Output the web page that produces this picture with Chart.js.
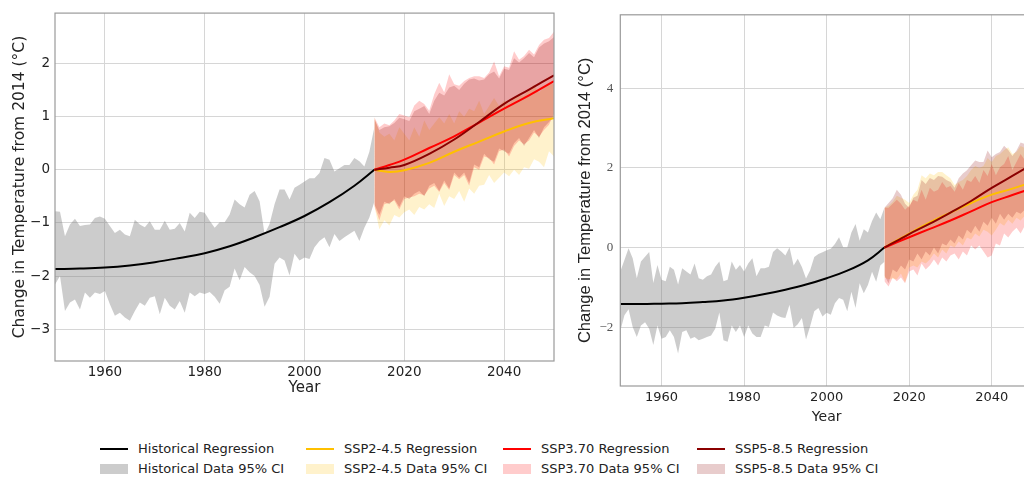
<!DOCTYPE html>
<html>
<head>
<meta charset="utf-8">
<script src="https://cdn.jsdelivr.net/npm/chart.js@4.4.0/dist/chart.umd.min.js"></script>
<style>
  html, body { margin: 0; padding: 0; width: 1024px; height: 478px; overflow: hidden; background: #fff; }
  #left { position: absolute; left: 0; top: 0; }
  #right { position: absolute; left: 560px; top: 0; }
  .item { position: absolute; height: 20px; line-height: 20px; white-space: nowrap;
          font-family: "DejaVu Sans", sans-serif; font-size: 13px; color: #222; }
  .swatch-line { position: absolute; left: 0; top: 9px; width: 28px; height: 2px; }
  .swatch-box { position: absolute; left: 0; top: 5px; width: 28px; height: 10px; }
  .item span { position: absolute; left: 38px; top: 0; }
</style>
</head>
<body>
<canvas id="left" width="570" height="400"></canvas>
<canvas id="right" width="490" height="430"></canvas>

<div class="item" style="left:100px; top:439px;"><div class="swatch-line" style="background:#000"></div><span>Historical Regression</span></div>
<div class="item" style="left:100px; top:459px;"><div class="swatch-box" style="background:rgba(128,128,128,0.4)"></div><span>Historical Data 95% CI</span></div>
<div class="item" style="left:306px; top:439px;"><div class="swatch-line" style="background:#ffc000"></div><span>SSP2-4.5 Regression</span></div>
<div class="item" style="left:306px; top:459px;"><div class="swatch-box" style="background:rgba(255,192,0,0.2)"></div><span>SSP2-4.5 Data 95% CI</span></div>
<div class="item" style="left:503px; top:439px;"><div class="swatch-line" style="background:#ff0000"></div><span>SSP3.70 Regression</span></div>
<div class="item" style="left:503px; top:459px;"><div class="swatch-box" style="background:rgba(255,0,0,0.2)"></div><span>SSP3.70 Data 95% CI</span></div>
<div class="item" style="left:697px; top:439px;"><div class="swatch-line" style="background:#8b0000"></div><span>SSP5-8.5 Regression</span></div>
<div class="item" style="left:697px; top:459px;"><div class="swatch-box" style="background:rgba(139,0,0,0.2)"></div><span>SSP5-8.5 Data 95% CI</span></div>

<script>
// ---- years / ticks ----
const histYears = [
  1950, 1951, 1952, 1953, 1954, 1955, 1956, 1957, 1958, 1959,
  1960, 1961, 1962, 1963, 1964, 1965, 1966, 1967, 1968, 1969,
  1970, 1971, 1972, 1973, 1974, 1975, 1976, 1977, 1978, 1979,
  1980, 1981, 1982, 1983, 1984, 1985, 1986, 1987, 1988, 1989,
  1990, 1991, 1992, 1993, 1994, 1995, 1996, 1997, 1998, 1999,
  2000, 2001, 2002, 2003, 2004, 2005, 2006, 2007, 2008, 2009,
  2010, 2011, 2012, 2013, 2014
];
const projYears = [
  2014, 2015, 2016, 2017, 2018, 2019, 2020, 2021, 2022, 2023,
  2024, 2025, 2026, 2027, 2028, 2029, 2030, 2031, 2032, 2033,
  2034, 2035, 2036, 2037, 2038, 2039, 2040, 2041, 2042, 2043,
  2044, 2045, 2046, 2047, 2048, 2049, 2050
];
const histFitYears = [1950, 1955, 1960, 1965, 1970, 1975, 1980, 1985, 1990, 1995, 2000, 2005, 2010, 2014];
const projFitYears = [2014, 2017, 2020, 2025, 2030, 2035, 2040, 2045, 2050];
const yearTicks = [1960, 1980, 2000, 2020, 2040];
const leftYTicks = [-3, -2, -1, 0, 1, 2];
const rightYTicks = [-2, 0, 2, 4];

// ---- left panel ----
const leftHistUpper = [
  -0.78, -0.79, -1.25, -1.03, -0.92, -1.06, -1.04, -1.03, -0.91, -0.88,
  -0.92, -1.06, -1.19, -1.13, -1.22, -1.25, -0.94, -1.03, -1.08, -0.97,
  -1.13, -1.13, -0.96, -1.13, -1.11, -1.00, -1.16, -0.81, -0.91, -0.79,
  -0.81, -0.96, -1.09, -0.99, -0.99, -0.84, -0.56, -0.65, -0.71, -0.47,
  -0.40, -0.59, -1.21, -1.02, -0.65, -0.37, -0.37, -0.56, -0.34, -0.28,
  -0.22, -0.16, -0.16, -0.06, 0.22, 0.19, -0.03, 0.03, 0.09, 0.09,
  0.22, 0.16, 0.06, 0.34, 0.80
];
const leftHistLower = [
  -2.16, -2.00, -2.66, -2.50, -2.44, -2.63, -2.31, -2.41, -2.31, -2.34,
  -2.28, -2.53, -2.75, -2.69, -2.78, -2.84, -2.66, -2.50, -2.56, -2.41,
  -2.38, -2.72, -2.41, -2.56, -2.63, -2.47, -2.69, -2.31, -2.38, -2.31,
  -2.34, -2.30, -2.39, -2.52, -2.27, -2.20, -1.86, -2.08, -1.83, -1.93,
  -2.00, -2.17, -2.58, -2.39, -1.77, -1.65, -1.71, -1.99, -1.58, -1.71,
  -1.65, -1.68, -1.46, -1.34, -1.27, -1.46, -1.21, -1.34, -1.27, -1.21,
  -1.15, -1.34, -1.09, -0.90, -0.60
];
const leftHistFit = [-1.87, -1.86, -1.84, -1.80, -1.74, -1.66, -1.57, -1.44, -1.27, -1.08, -0.87, -0.61, -0.30, 0];

const leftSsp245Upper = [
  0.99, 0.70, 0.62, 0.68, 0.55, 0.80, 0.68, 0.55, 0.80, 0.62,
  0.93, 0.75, 0.87, 0.99, 0.87, 1.05, 0.87, 1.10, 1.00, 1.15,
  1.10, 1.30, 1.05, 1.20, 1.35, 1.20, 1.30, 1.25, 1.35, 1.40,
  1.40, 1.50, 1.60, 1.45, 1.55, 1.65, 1.60
];
const leftSsp245Lower = [
  -0.68, -1.12, -0.95, -1.05, -0.85, -0.90, -0.80, -0.75, -0.85, -0.70,
  -0.75, -0.65, -0.72, -0.45, -0.68, -0.50, -0.55, -0.40, -0.60, -0.35,
  -0.45, -0.30, -0.28, -0.10, -0.25, -0.15, -0.05, -0.12, 0.00, -0.10,
  0.05, 0.02, 0.20, 0.15, 0.05, 0.35, 0.25
];
const leftSsp370Upper = [
  0.99, 0.80, 0.87, 0.84, 0.93, 1.05, 1.02, 0.99, 1.21, 1.30,
  1.24, 1.11, 1.42, 1.64, 1.46, 1.80, 1.61, 1.58, 1.67, 1.73,
  1.76, 1.76, 1.73, 1.83, 2.04, 1.76, 1.95, 1.92, 2.23, 2.07,
  2.14, 2.26, 2.17, 2.35, 2.45, 2.48, 2.60
];
const leftSsp370Lower = [
  -0.68, -0.95, -0.65, -0.62, -0.58, -0.75, -0.55, -0.52, -0.50, -0.45,
  -0.48, -0.35, -0.30, -0.42, -0.25, -0.38, -0.10, -0.18, -0.10, -0.30,
  0.05, 0.00, 0.25, 0.22, 0.10, 0.35, 0.38, 0.25, 0.45, 0.55,
  0.48, 0.55, 0.70, 0.62, 0.75, 0.85, 1.05
];
const leftSsp585Upper = [
  0.95, 0.75, 0.80, 0.82, 0.88, 0.98, 0.95, 0.92, 1.10, 1.15,
  1.20, 1.05, 1.30, 1.45, 1.40, 1.55, 1.58, 1.50, 1.62, 1.70,
  1.72, 1.68, 1.70, 1.80, 1.85, 1.72, 1.90, 1.88, 2.10, 2.02,
  2.10, 2.20, 2.12, 2.30, 2.38, 2.42, 2.50
];
const leftSsp585Lower = [
  -0.65, -0.85, -0.60, -0.65, -0.55, -0.70, -0.50, -0.55, -0.45, -0.40,
  -0.50, -0.30, -0.25, -0.40, -0.20, -0.35, -0.05, -0.15, -0.05, -0.25,
  0.10, 0.05, 0.30, 0.20, 0.15, 0.40, 0.35, 0.30, 0.50, 0.60,
  0.45, 0.60, 0.75, 0.60, 0.80, 0.90, 1.00
];
const leftSsp245Fit = [0, -0.04, -0.01, 0.13, 0.34, 0.53, 0.72, 0.88, 0.97];
const leftSsp370Fit = [0, 0.09, 0.19, 0.41, 0.63, 0.89, 1.15, 1.40, 1.67];
const leftSsp585Fit = [0, 0.04, 0.09, 0.30, 0.57, 0.90, 1.24, 1.51, 1.78];

// ---- right panel ----
const rightHistUpper = [
  -0.60, -0.31, -0.02, -0.27, -0.77, -0.35, -0.23, -0.11, -0.89, -0.44,
  -0.81, -0.85, -0.48, -0.56, -0.93, -0.52, -0.60, -0.68, -0.40, -0.77,
  -0.81, -0.72, -0.68, -0.48, -0.35, -0.85, -0.81, -0.35, -0.56, -0.44,
  -0.60, -0.40, -0.27, -0.72, -0.52, -0.52, -0.48, -0.11, -0.02, -0.10,
  -0.20, 0.01, -0.45, -0.28, -0.49, -0.78, -0.57, -0.24, -0.16, -0.12,
  -0.07, -0.03, 0.09, 0.26, 0.01, 0.01, 0.38, 0.59, 0.17, 0.46,
  0.38, 0.67, 0.88, 0.71, 1.00
];
const rightHistLower = [
  -2.10, -1.70, -1.55, -2.00, -2.25, -1.96, -1.88, -2.04, -2.45, -1.96,
  -2.29, -2.25, -2.08, -2.25, -2.66, -2.12, -2.08, -2.29, -2.25, -2.33,
  -2.29, -2.25, -2.21, -2.04, -1.63, -2.33, -2.37, -1.96, -2.12, -1.96,
  -2.25, -1.96, -2.16, -2.25, -2.25, -1.96, -2.00, -1.63, -1.71, -1.75,
  -1.77, -1.44, -2.02, -1.93, -1.77, -2.31, -1.98, -1.60, -1.52, -1.73,
  -1.64, -1.69, -1.40, -1.27, -1.31, -1.60, -1.11, -1.52, -0.90, -1.15,
  -0.94, -0.61, -0.86, -0.45, -0.36
];
const rightHistFit = [-1.42, -1.42, -1.41, -1.40, -1.37, -1.33, -1.26, -1.17, -1.06, -0.93, -0.77, -0.58, -0.32, 0];

const rightSsp245Upper = [
  1.00, 1.05, 1.15, 1.30, 1.25, 1.20, 1.12, 1.33, 1.45, 1.82,
  1.74, 1.86, 1.82, 1.90, 1.90, 1.82, 1.74, 1.57, 1.65, 1.70,
  1.80, 1.95, 2.05, 2.00, 2.05, 2.25, 2.15, 2.30, 2.35, 2.45,
  2.52, 2.35, 2.40, 2.55, 2.50, 2.60, 2.65
];
const rightSsp245Lower = [
  -0.75, -0.80, -0.78, -0.80, -0.65, -0.88, -0.50, -0.45, -0.50, -0.35,
  -0.40, -0.30, -0.15, -0.25, -0.05, -0.15, 0.05, 0.00, 0.15, 0.05,
  0.25, 0.20, 0.35, 0.28, 0.45, 0.40, 0.30, 0.45, 0.62, 0.55,
  0.70, 0.60, 0.75, 0.68, 0.80, 0.82, 0.90
];
const rightSsp370Upper = [
  1.00, 1.00, 1.10, 1.20, 1.10, 0.95, 1.05, 1.20, 1.15, 1.45,
  1.20, 1.50, 1.40, 1.45, 1.65, 1.50, 1.55, 1.40, 1.62, 1.45,
  1.70, 1.65, 1.80, 1.62, 1.95, 1.80, 2.10, 1.82, 2.02, 2.10,
  2.30, 1.95, 2.15, 2.35, 2.20, 2.40, 2.45
];
const rightSsp370Lower = [
  -0.85, -0.98, -0.75, -0.85, -0.75, -0.90, -0.60, -0.55, -0.70, -0.40,
  -0.55, -0.45, -0.30, -0.45, -0.25, -0.35, -0.20, -0.15, -0.30, -0.10,
  -0.20, 0.05, -0.05, 0.05, -0.10, -0.25, -0.20, 0.10, 0.05, 0.35,
  0.25, 0.40, 0.50, 0.35, 0.55, 0.50, 0.60
];
const rightSsp585Upper = [
  1.00, 1.12, 1.24, 1.45, 1.33, 1.10, 1.00, 1.25, 1.30, 1.70,
  1.60, 1.75, 1.70, 1.80, 1.78, 1.70, 1.65, 1.50, 1.74, 1.86,
  1.94, 2.07, 2.19, 2.15, 2.15, 2.44, 2.27, 2.35, 2.40, 2.56,
  2.45, 2.30, 2.44, 2.64, 2.60, 2.70, 2.75
];
const rightSsp585Lower = [
  -0.70, -0.90, -0.55, -0.62, -0.45, -0.55, -0.30, -0.35, -0.15, -0.30,
  -0.10, -0.20, 0.00, -0.15, 0.10, 0.05, 0.20, 0.10, 0.30, 0.20,
  0.45, 0.35, 0.55, 0.40, 0.65, 0.55, 0.75, 0.60, 0.85, 0.70,
  0.85, 0.75, 0.90, 0.85, 0.95, 0.92, 1.05
];
const rightSsp245Fit = [0, 0.18, 0.35, 0.63, 0.88, 1.12, 1.33, 1.48, 1.65];
const rightSsp370Fit = [0, 0.13, 0.26, 0.47, 0.68, 0.91, 1.14, 1.32, 1.50];
const rightSsp585Fit = [0, 0.17, 0.34, 0.60, 0.88, 1.17, 1.50, 1.80, 2.10];

// ---- colours ----
const histLine = '#000000', histFill = 'rgba(128,128,128,0.4)';
const ssp245Line = '#ffc000', ssp245Fill = 'rgba(255,192,0,0.2)';
const ssp370Line = '#ff0000', ssp370Fill = 'rgba(255,0,0,0.2)';
const ssp585Line = '#8b0000', ssp585Fill = 'rgba(139,0,0,0.2)';

function pts(xs, ys) {
  return xs.map((x, i) => ({ x: x, y: ys[i] }));
}

// lower edge (no fill) followed by upper edge that fills down to it
function band(years, lower, upper, color, order) {
  return [
    { data: pts(years, lower), borderWidth: 0, pointRadius: 0, fill: false, order: order },
    { data: pts(years, upper), borderWidth: 0, pointRadius: 0, fill: '-1', backgroundColor: color, order: order }
  ];
}

// smooth regression curve through the read-off points
function fitLine(years, values, color, order) {
  return {
    data: pts(years, values), borderColor: color, borderWidth: 2, pointRadius: 0,
    fill: false, tension: 0.4, order: order
  };
}

// box round the plot area, like matplotlib spines
const frameBox = {
  id: 'frameBox',
  afterDraw(chart) {
    const { ctx, chartArea: a } = chart;
    ctx.save();
    ctx.strokeStyle = '#9a9a9a';
    ctx.lineWidth = 1.2;
    ctx.strokeRect(a.left, a.top, a.right - a.left, a.bottom - a.top);
    ctx.restore();
  }
};

const minus = v => String(v).replace('-', '\u2212');

function makeChart(id, p) {
  const datasets = [].concat(
    band(histYears, p.histLower, p.histUpper, histFill, 10),
    band(projYears, p.s245Lower, p.s245Upper, ssp245Fill, 9),
    band(projYears, p.s370Lower, p.s370Upper, ssp370Fill, 8),
    band(projYears, p.s585Lower, p.s585Upper, ssp585Fill, 7),
    [
      fitLine(histFitYears, p.histFit, histLine, 4),
      fitLine(projFitYears, p.s245Fit, ssp245Line, 3),
      fitLine(projFitYears, p.s370Fit, ssp370Line, 2),
      fitLine(projFitYears, p.s585Fit, ssp585Line, 1)
    ]
  );

  return new Chart(document.getElementById(id), {
    type: 'line',
    data: { datasets: datasets },
    options: {
      responsive: false,
      animation: false,
      layout: { padding: p.padding },
      plugins: { legend: { display: false }, tooltip: { enabled: false } },
      scales: {
        x: {
          type: 'linear', min: 1950, max: 2050,
          afterBuildTicks: s => { s.ticks = yearTicks.map(v => ({ value: v })); },
          afterFit: s => { s.height = p.xHeight; },
          grid: { color: '#d6d6d6', lineWidth: 1, drawTicks: false },
          border: { display: false },
          ticks: {
            font: { family: 'DejaVu Sans', size: p.xTickSize }, color: '#222',
            padding: p.xTickPad, maxRotation: 0, callback: v => String(v)
          },
          title: {
            display: true, text: 'Year', color: '#222',
            font: { family: 'DejaVu Sans', size: p.xTitleSize },
            padding: { top: 0, bottom: p.xTitlePad }
          }
        },
        y: {
          type: 'linear', min: p.yMin, max: p.yMax,
          afterBuildTicks: s => { s.ticks = p.yTicks.map(v => ({ value: v })); },
          afterFit: s => { s.width = p.yWidth; },
          grid: { color: '#d6d6d6', lineWidth: 1, drawTicks: false },
          border: { display: false },
          ticks: {
            font: { family: p.yTickFont, size: p.yTickSize }, color: p.yTickColor,
            padding: p.yTickPad, callback: minus
          },
          title: {
            display: true, text: 'Change in Temperature from 2014 (°C)', color: '#222',
            font: { family: p.yTitleFont, size: p.yTitleSize },
            padding: { top: p.yTitlePad, bottom: 0 }
          }
        }
      }
    },
    plugins: [frameBox]
  });
}

makeChart('left', {
  histUpper: leftHistUpper, histLower: leftHistLower, histFit: leftHistFit,
  s245Upper: leftSsp245Upper, s245Lower: leftSsp245Lower, s245Fit: leftSsp245Fit,
  s370Upper: leftSsp370Upper, s370Lower: leftSsp370Lower, s370Fit: leftSsp370Fit,
  s585Upper: leftSsp585Upper, s585Lower: leftSsp585Lower, s585Fit: leftSsp585Fit,
  padding: { top: 9, right: 16, bottom: 0, left: 0 },
  xHeight: 39, xTickSize: 13.5, xTickPad: 3, xTitleSize: 15, xTitlePad: 3,
  yMin: -3.6, yMax: 2.95, yTicks: leftYTicks, yWidth: 55,
  yTickFont: 'DejaVu Sans', yTickSize: 13.5, yTickColor: '#222', yTickPad: 5,
  yTitleFont: 'DejaVu Sans', yTitleSize: 15.5, yTitlePad: 11
});

makeChart('right', {
  histUpper: rightHistUpper, histLower: rightHistLower, histFit: rightHistFit,
  s245Upper: rightSsp245Upper, s245Lower: rightSsp245Lower, s245Fit: rightSsp245Fit,
  s370Upper: rightSsp370Upper, s370Lower: rightSsp370Lower, s370Fit: rightSsp370Fit,
  s585Upper: rightSsp585Upper, s585Lower: rightSsp585Lower, s585Fit: rightSsp585Fit,
  padding: { top: 9, right: 17, bottom: 0, left: 0 },
  xHeight: 44, xTickSize: 13, xTickPad: 4, xTitleSize: 14, xTitlePad: 4.6,
  yMin: -3.48, yMax: 5.85, yTicks: rightYTicks, yWidth: 60.3,
  yTickFont: 'Liberation Serif', yTickSize: 13, yTickColor: '#555', yTickPad: 7,
  yTitleFont: 'Liberation Sans', yTitleSize: 16.5, yTitlePad: 16
});
</script>
</body>
</html>
